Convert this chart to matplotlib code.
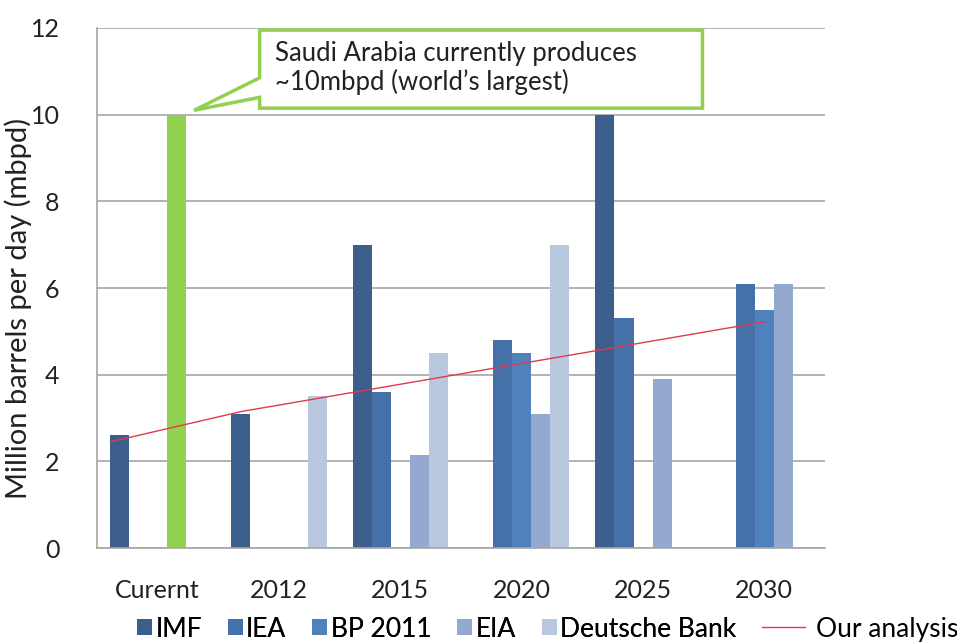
import matplotlib.pyplot as plt
from matplotlib.patches import Polygon, Patch
from matplotlib.lines import Line2D
import numpy as np

plt.rcParams['font.family'] = ['Lato', 'DejaVu Sans']

# Oil production forecasts (million barrels per day)
categories = ["Curernt", "2012", "2015", "2020", "2025", "2030"]
imf = [2.6, 3.1, 7.0, None, 10.0, None]
iea = [None, None, 3.6, 4.8, 5.3, 6.1]
bp2011 = [None, None, None, 4.5, None, 5.5]
eia = [None, None, 2.15, 3.1, 3.9, 6.1]
deutsche = [None, 3.5, 4.5, 7.0, None, None]
saudi_current = 10.0

# "Our analysis" trend line (x in category units)
analysis_x = [-0.39, 0.69, 5.0]
analysis_y = [2.45, 3.15, 5.22]

series = [
    ("IMF", imf, "#3b5e8c"),
    ("IEA", iea, "#4571a8"),
    ("BP 2011", bp2011, "#4f81bd"),
    ("EIA", eia, "#94a9cf"),
    ("Deutsche Bank", deutsche, "#b9c7df"),
]
green = "#92d050"
red = "#e03a4e"
txt = "#222222"

fig = plt.figure(figsize=(9.57, 6.42), dpi=100)
ax = fig.add_axes([0.1014, 0.1464, 0.7607, 0.81])

x = np.arange(len(categories))
w = 0.157
for k, (name, vals, col) in enumerate(series):
    for i, v in enumerate(vals):
        if v is not None:
            ax.bar(x[i] + (k - 2) * w, v, width=w, color=col, zorder=2)

# Saudi Arabia's current output sits in the EIA slot of the first group
ax.bar(x[0] + 1 * w, saudi_current, width=w, color=green, zorder=2)

ax.plot(analysis_x, analysis_y, color=red, lw=1.0, zorder=3)

ax.set_xlim(-0.5, 5.5)
ax.set_ylim(0, 12)
ax.set_yticks(range(0, 13, 2))
ax.set_xticks(x)
ax.set_xticklabels(categories)
ax.tick_params(axis="both", length=0, labelsize=18, colors=txt)
ax.tick_params(axis="y", pad=27)
ax.tick_params(axis="x", pad=22)
ax.yaxis.grid(True, color="#a6a6a6", lw=1.2, zorder=0)
ax.set_axisbelow(True)
for s in ["top", "right"]:
    ax.spines[s].set_visible(False)
for s in ["left", "bottom"]:
    ax.spines[s].set_color("#a6a6a6")
    ax.spines[s].set_linewidth(1.2)

ax.set_ylabel("Million barrels per day (mbpd)", fontsize=21, color=txt)
ax.yaxis.set_label_coords(-0.09, 0.46)

# Callout box pointing at the green bar
callout = Polygon(
    [(0.84, 11.95), (4.49, 11.95), (4.49, 10.15), (0.84, 10.15),
     (0.84, 10.4), (0.30, 10.1), (0.84, 10.85)],
    closed=True, facecolor="white", edgecolor=green, lw=2.5, zorder=5,
    clip_on=False)
ax.add_patch(callout)
ax.text(0.967, 11.08, "Saudi Arabia currently produces\n~10mbpd (world\u2019s largest)",
        fontsize=18.5, va="center", ha="left", color=txt,
        linespacing=1.15, zorder=6)

# Legend: bar series squares, then the trend line
bar_handles = [Patch(facecolor=col, edgecolor="none") for _, _, col in series]
leg1 = fig.legend(bar_handles, [s[0] for s in series], ncol=5, frameon=False,
                  fontsize=19, handlelength=0.57, handleheight=0.57,
                  handletextpad=0.13, columnspacing=0.98,
                  loc="center left", bbox_to_anchor=(0.118, 0.02))
fig.add_artist(leg1)
fig.legend([Line2D([], [], color=red, lw=1.0)], ["Our analysis"],
           frameon=False, fontsize=19, handlelength=1.63, handletextpad=0.45,
           loc="center left", bbox_to_anchor=(0.771, 0.02))

fig.savefig("out.png", dpi=100)
